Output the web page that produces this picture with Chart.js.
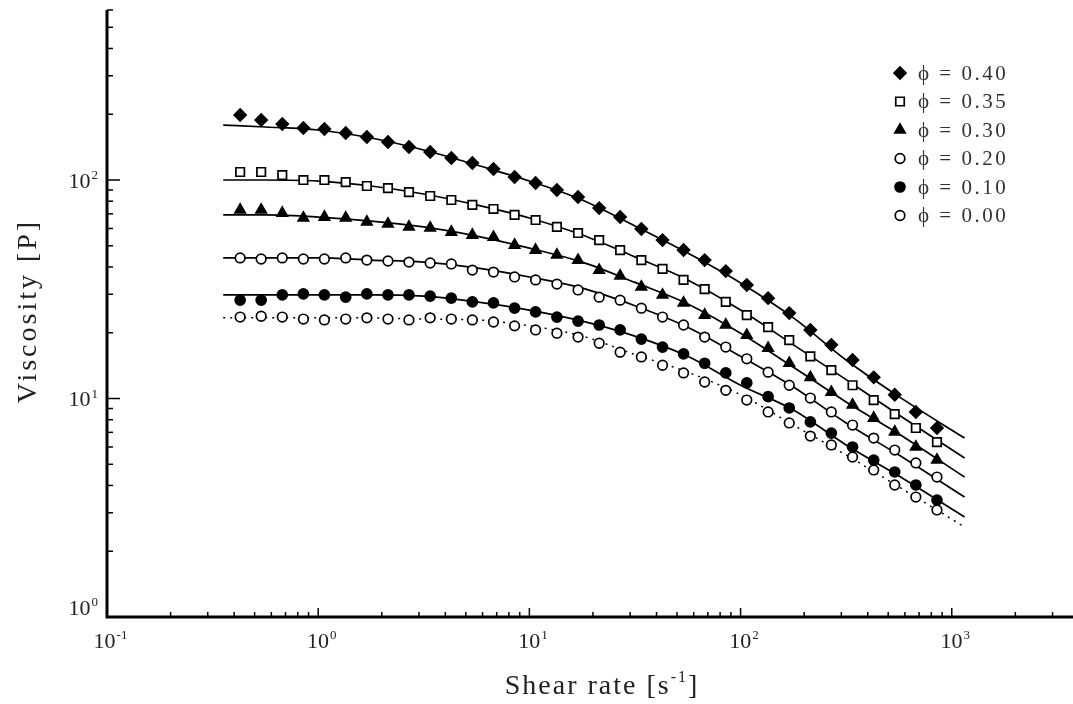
<!DOCTYPE html>
<html>
<head>
<meta charset="utf-8">
<script src="https://cdn.jsdelivr.net/npm/chart.js@4.4.1/dist/chart.umd.min.js"></script>
<style>
  html, body { margin: 0; padding: 0; background: #fff; overflow: hidden; }
  canvas { display: block; }
</style>
</head>
<body>
<canvas id="grafica" width="1073" height="704"></canvas>
<script>
// velocidad de corte de los puntos medidos [1/s]
const tasaPuntos = [0.427, 0.537, 0.676, 0.851, 1.07, 1.35, 1.70, 2.14, 2.69, 3.39,
  4.27, 5.37, 6.76, 8.51, 10.7, 13.5, 17.0, 21.4, 26.9, 33.9,
  42.7, 53.7, 67.6, 85.1, 107, 135, 170, 214, 269, 339,
  427, 537, 676, 851];
// velocidad de corte donde se leen las curvas ajustadas
const tasaCurva = [0.355, 0.562, 1, 1.78, 3.16, 5.62, 10, 17.8, 31.6, 56.2, 100, 178, 316, 562, 1150];

const etiquetas = ['0.40', '0.35', '0.30', '0.20', '0.10', '0.00'];

// viscosidad [P] de los puntos
const visc040 = [198.4, 188.2, 180.4, 173.0, 171.2, 164.1, 157.3, 149.3, 141.6, 134.3,
  126.1, 119.6, 112.3, 103.2, 96.9, 90.0, 83.6, 74.4, 67.7, 59.7,
  53.1, 47.8, 43.0, 38.3, 33.1, 28.8, 24.6, 20.6, 17.6, 15.0,
  12.5, 10.4, 8.68, 7.33];
const visc035 = [108.8, 108.8, 105.4, 100, 100, 97.9, 93.9, 91.9, 88.1, 84.5,
  81.0, 76.9, 73.7, 69.2, 65.6, 61.0, 57.2, 53.1, 47.8, 43.0,
  39.2, 34.9, 31.7, 27.7, 24.1, 21.2, 18.5, 15.6, 13.5, 11.5,
  9.84, 8.49, 7.33, 6.32];
const visc030 = [72.9, 72.9, 70.6, 67.0, 67.7, 67.0, 64.3, 62.9, 61.0, 60.3,
  57.8, 56.0, 54.8, 50.4, 47.8, 45.4, 43.0, 38.7, 36.4, 32.4,
  29.8, 27.4, 24.1, 21.7, 19.5, 17.0, 14.5, 12.5, 10.7, 9.34,
  8.14, 7.03, 6.00, 5.23];
const visc020 = [44.0, 43.5, 44.0, 43.5, 43.5, 44.0, 43.0, 42.6, 42.1, 41.7,
  41.3, 38.7, 37.9, 36.0, 34.9, 33.4, 31.4, 29.1, 28.2, 25.9,
  23.6, 21.7, 19.1, 17.2, 15.2, 13.2, 11.5, 10.05, 8.68, 7.56,
  6.59, 5.81, 5.07, 4.37];
const visc010 = [28.2, 28.2, 29.8, 30.1, 29.8, 29.1, 30.1, 29.8, 29.8, 29.4,
  28.8, 27.7, 27.4, 25.9, 24.9, 23.6, 22.6, 21.7, 20.6, 18.7,
  17.2, 16.0, 14.5, 13.1, 11.8, 10.2, 9.05, 7.81, 6.95, 6.00,
  5.23, 4.61, 4.02, 3.43];
const visc000 = [23.6, 23.8, 23.6, 23.1, 22.9, 23.1, 23.4, 23.1, 22.9, 23.4,
  23.1, 22.9, 22.4, 21.5, 20.6, 19.9, 19.1, 17.9, 16.3, 15.5,
  14.2, 13.1, 11.9, 10.9, 9.84, 8.68, 7.73, 6.73, 6.13, 5.40,
  4.71, 4.02, 3.54, 3.09];

// curvas ajustadas
const curva040 = [178.5, 174.8, 169.4, 155.7, 137.2, 117.1, 99.0, 81.0, 61.6, 46.3, 33.8, 23.4, 15.0, 10.2, 6.59];
const curva035 = [100, 100, 98.9, 93.9, 86.3, 76.9, 67.0, 56.0, 44.5, 34.9, 25.4, 17.6, 12.2, 8.40, 5.34];
const curva030 = [69.2, 69.2, 67.7, 64.9, 61.0, 55.4, 48.8, 42.1, 34.0, 27.1, 19.9, 13.9, 9.64, 6.88, 4.37];
const curva020 = [44.0, 44.0, 44.0, 43.0, 42.1, 39.6, 36.0, 32.0, 26.6, 21.2, 15.6, 11.3, 7.73, 5.51, 3.54];
const curva010 = [29.8, 29.8, 29.8, 29.8, 29.4, 27.7, 25.4, 22.6, 19.3, 15.6, 11.5, 8.86, 6.13, 4.42, 2.87];
const curva000 = [23.4, 23.4, 23.4, 23.4, 23.1, 22.9, 21.5, 19.3, 15.9, 13.2, 10.4, 7.56, 5.51, 3.94, 2.58];

// exponentes de las etiquetas de los ejes
const decadasX = [-1, 0, 1, 2, 3];
const decadasY = [0, 1, 2];

const puntos = [visc040, visc035, visc030, visc020, visc010, visc000];
const curvas = [curva040, curva035, curva030, curva020, curva010, curva000];

const estilos = [
  { forma: 'rectRot', relleno: '#000', r: 6 },
  { forma: 'rect', relleno: '#fff', r: 6 },
  { forma: 'triangle', relleno: '#000', r: 6 },
  { forma: 'circle', relleno: '#fff', r: 4.8 },
  { forma: 'circle', relleno: '#000', r: 5 },
  { forma: 'circle', relleno: '#fff', r: 4.8 }
];

const fuente = '"Liberation Serif", "Times New Roman", serif';

const datasets = [];
puntos.forEach((serie, i) => {
  datasets.push({
    label: 'ϕ = ' + etiquetas[i],
    data: serie.map((v, k) => ({ x: tasaPuntos[k], y: v })),
    showLine: false,
    pointStyle: estilos[i].forma,
    pointRadius: estilos[i].r,
    pointBackgroundColor: estilos[i].relleno,
    pointBorderColor: '#000',
    pointBorderWidth: 1.7,
    order: 0
  });
});
curvas.forEach((serie, i) => {
  datasets.push({
    label: 'ajuste ' + etiquetas[i],
    data: serie.map((v, k) => ({ x: tasaCurva[k], y: v })),
    showLine: true,
    borderColor: '#000',
    borderWidth: i === 5 ? 1.5 : 1.7,
    borderDash: i === 5 ? [2, 5] : [],
    pointRadius: 0,
    cubicInterpolationMode: 'monotone',
    order: 1
  });
});

// escribe 10 con exponente
const potencia = (ctx, exp, x, y, alinear) => {
  ctx.font = '22px ' + fuente;
  const wb = ctx.measureText('10').width;
  ctx.font = '13px ' + fuente;
  const we = ctx.measureText(String(exp)).width;
  let x0 = alinear === 'right' ? x - wb - we - 1 : x - (wb + we) / 2;
  ctx.textAlign = 'left';
  ctx.textBaseline = 'alphabetic';
  ctx.font = '22px ' + fuente;
  ctx.fillText('10', x0, y + 7.5);
  ctx.font = '13px ' + fuente;
  ctx.fillText(String(exp), x0 + wb + 1, y - 1);
};

const marcador = (ctx, estilo, x, y) => {
  ctx.save();
  ctx.fillStyle = estilo.relleno;
  ctx.strokeStyle = '#000';
  ctx.lineWidth = 1.7;
  Chart.helpers.drawPoint(ctx, { pointStyle: estilo.forma, radius: estilo.r, rotation: 0, borderWidth: 1.7 }, x, y);
  ctx.restore();
};

const ejes = {
  id: 'ejes',
  afterDraw(chart) {
    const ctx = chart.ctx;
    const sx = chart.scales.x, sy = chart.scales.y;
    const a = chart.chartArea;
    ctx.save();
    ctx.strokeStyle = '#000';
    // marcas del eje x hacia dentro
    ctx.lineWidth = 1.5;
    decadasX.forEach(d => {
      for (let m = 1; m <= 9; m++) {
        const v = m * Math.pow(10, d);
        if (v < sx.min || v > sx.max) continue;
        const px = sx.getPixelForValue(v);
        ctx.beginPath();
        ctx.moveTo(px, a.bottom);
        ctx.lineTo(px, a.bottom - (m === 1 ? 9 : 5));
        ctx.stroke();
      }
    });
    decadasY.forEach(d => {
      for (let m = 1; m <= 9; m++) {
        const v = m * Math.pow(10, d);
        if (v < sy.min || v > sy.max) continue;
        const py = sy.getPixelForValue(v);
        ctx.beginPath();
        ctx.moveTo(a.left, py);
        ctx.lineTo(a.left + (m === 1 ? 13 : 6), py);
        ctx.stroke();
      }
    });
    // lineas de los ejes
    ctx.lineWidth = 3;
    ctx.beginPath();
    ctx.moveTo(a.left, a.top);
    ctx.lineTo(a.left, a.bottom);
    ctx.lineTo(a.right, a.bottom);
    ctx.stroke();

    // etiquetas
    ctx.fillStyle = '#222';
    decadasX.forEach(d => {
      potencia(ctx, d, sx.getPixelForValue(Math.pow(10, d)) + 3, 640, 'center');
    });
    decadasY.forEach(d => {
      let py = sy.getPixelForValue(Math.pow(10, d));
      if (d === 0) py -= 10;
      potencia(ctx, d, 98, py, 'right');
    });

    // titulos
    ctx.letterSpacing = '2px';
    ctx.font = '28px ' + fuente;
    ctx.textBaseline = 'alphabetic';
    ctx.textAlign = 'left';
    const t1 = 'Shear rate [s', t2 = '-1', t3 = ']';
    const w1 = ctx.measureText(t1).width;
    ctx.font = '16px ' + fuente;
    const w2 = ctx.measureText(t2).width;
    ctx.font = '28px ' + fuente;
    const w3 = ctx.measureText(t3).width;
    let x0 = 602 - (w1 + w2 + w3) / 2;
    ctx.fillText(t1, x0, 694);
    ctx.font = '16px ' + fuente;
    ctx.fillText(t2, x0 + w1, 682);
    ctx.font = '28px ' + fuente;
    ctx.fillText(t3, x0 + w1 + w2, 694);

    ctx.save();
    ctx.translate(29, 311);
    ctx.rotate(-Math.PI / 2);
    ctx.textAlign = 'center';
    ctx.textBaseline = 'middle';
    ctx.letterSpacing = '3px';
    ctx.fillText('Viscosity [P]', 0, 0);
    ctx.restore();

    // leyenda
    ctx.font = '21px ' + fuente;
    ctx.letterSpacing = '2.5px';
    ctx.textAlign = 'left';
    ctx.textBaseline = 'middle';
    etiquetas.forEach((et, i) => {
      const y = 73 + 28.5 * i;
      marcador(ctx, estilos[i], 900, y);
      ctx.fillStyle = '#333';
      ctx.fillText('ϕ = ' + et, 918, y + 1);
    });
    ctx.restore();
  }
};

new Chart(document.getElementById('grafica'), {
  type: 'scatter',
  data: { datasets: datasets },
  options: {
    responsive: false,
    animation: false,
    devicePixelRatio: 1,
    layout: { autoPadding: false, padding: { left: 107, top: 10, right: 0, bottom: 87 } },
    plugins: { legend: { display: false }, tooltip: { enabled: false } },
    scales: {
      x: { type: 'logarithmic', min: 0.1, max: 3750, display: false },
      y: { type: 'logarithmic', min: 1, max: 600, display: false }
    }
  },
  plugins: [ejes]
});
</script>
</body>
</html>
